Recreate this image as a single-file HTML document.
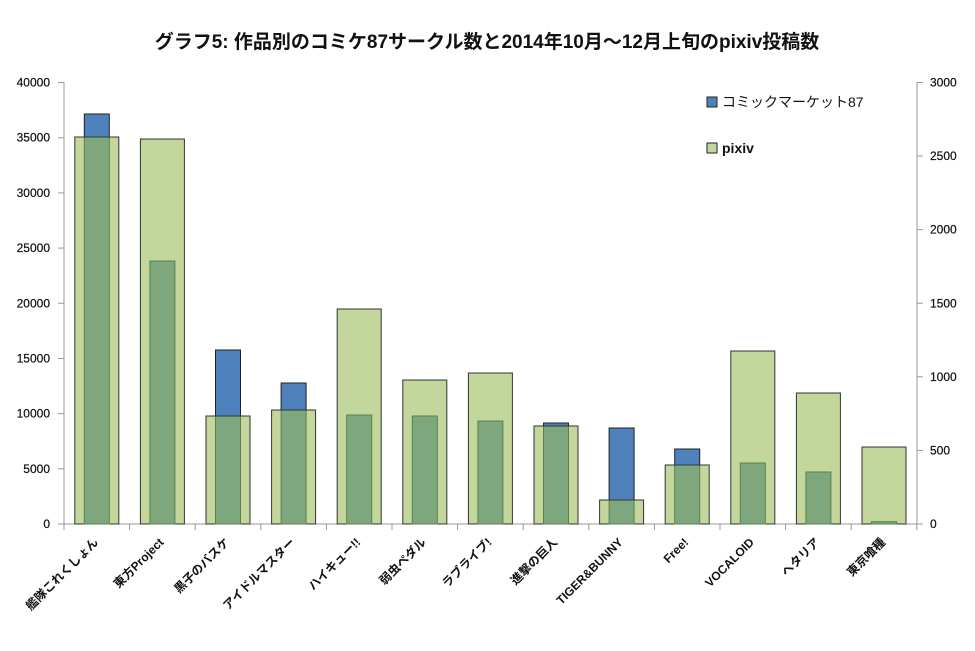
<!DOCTYPE html>
<html><head><meta charset="utf-8"><style>
body{margin:0;background:#fff;width:975px;height:646px;overflow:hidden}
text{font-family:"Liberation Sans","Noto Sans CJK JP",sans-serif}
</style></head><body>
<svg width="975" height="646" viewBox="0 0 975 646" xmlns="http://www.w3.org/2000/svg">
<text x="487" y="48" text-anchor="middle" font-size="19" font-weight="bold" fill="#111">グラフ5: 作品別のコミケ87サークル数と2014年10月～12月上旬のpixiv投稿数</text>
<g stroke="#999" stroke-width="1">
<line x1="64" y1="82" x2="64" y2="524"/>
<line x1="917" y1="82" x2="917" y2="524"/>
<line x1="64" y1="524" x2="917" y2="524"/>
</g>
<g id="ticks" stroke="#999"></g>
<g font-size="12" fill="#111" text-anchor="end" id="ly" stroke="#111" stroke-width="0.2"></g>
<g font-size="12" fill="#111" id="ry" stroke="#111" stroke-width="0.2"></g>
<g id="bars"></g>
<g id="labels" font-size="12" font-weight="bold" fill="#111"></g>
<rect x="707" y="97" width="10" height="10" fill="#4F81BD" stroke="#222"/>
<text x="722" y="107" font-size="14" fill="#111">コミックマーケット87</text>
<rect x="707" y="143" width="10" height="10" fill="#C3D69B" stroke="#222"/>
<text x="722" y="153" font-size="14" font-weight="bold" fill="#111">pixiv</text>
</svg>
<script>
var NS="http://www.w3.org/2000/svg";
function el(p,t,a,txt){var e=document.createElementNS(NS,t);for(var k in a)e.setAttribute(k,a[k]);if(txt!=null)e.textContent=txt;document.getElementById(p).appendChild(e);}
for(var i=0;i<=8;i++){var y=524-i*441.5/8;
el("ticks","line",{x1:58,y1:y,x2:64,y2:y});
el("ly","text",{x:50,y:y+4},String(i*5000));}
for(var i=0;i<=6;i++){var y=524-i*441.5/6;el("ticks","line",{x1:917,y1:y,x2:923,y2:y});el("ry","text",{x:930,y:y+4},String(i*500));}
var w=65.6;
for(var i=0;i<=13;i++){el("ticks","line",{x1:64+i*w,y1:524,x2:64+i*w,y2:530});}
var names=["艦隊これくしょん","東方Project","黒子のバスケ","アイドルマスター","ハイキュー!!","弱虫ペダル","ラブライブ!","進撃の巨人","TIGER&BUNNY","Free!","VOCALOID","ヘタリア","東京喰種"];
var blue=[114,261,350,383,415,416,421,423,428,449,463,472,521.7];
var green=[137,139,416,410,309,380,373,426,500,465,351,393,447];
for(var i=0;i<13;i++){var c=64+w*(i+0.5);
el("bars","rect",{x:c-22,y:green[i],width:44,height:524-green[i],fill:"#C3D69B",stroke:"#333","stroke-width":1});
if(blue[i]<green[i])el("bars","rect",{x:c-12.5,y:blue[i],width:25,height:green[i]-blue[i],fill:"#4F81BD",stroke:"#222","stroke-width":1});
var t=Math.max(blue[i],green[i]);
el("bars","rect",{x:c-12.5,y:t,width:25,height:524-t,fill:"#7FA77E",stroke:"#5c7f4c","stroke-width":1});
if(blue[i]<green[i])el("bars","line",{x1:c-22,y1:green[i],x2:c+22,y2:green[i],stroke:"#333"});
el("labels","text",{x:c+2,y:543,"text-anchor":"end",transform:"rotate(-45 "+(c+2)+" 543)"},names[i]);}
</script>
</body></html>
